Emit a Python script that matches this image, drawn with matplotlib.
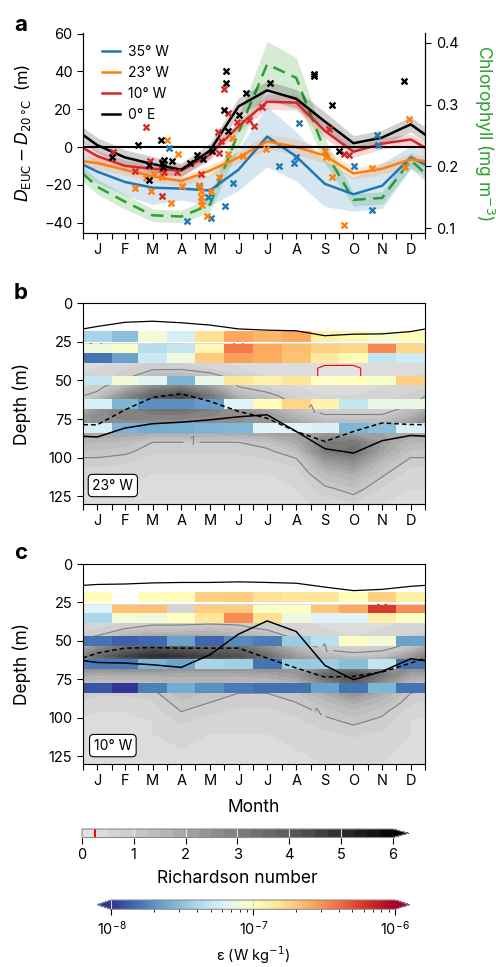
import numpy as np
import matplotlib.pyplot as plt
from matplotlib.colors import LogNorm, ListedColormap

plt.rcParams['font.family'] = ['Inter', 'DejaVu Sans']
plt.rcParams['mathtext.fontset'] = 'dejavusans'
plt.rcParams['axes.linewidth'] = 0.8

# ---- calendar ----
month_len = [31, 28, 31, 30, 31, 30, 31, 31, 30, 31, 30, 31]
month_lbl = ['J', 'F', 'M', 'A', 'M', 'J', 'J', 'A', 'S', 'O', 'N', 'D']

# ---- panel a: D_EUC - D_20C (m), monthly climatology ----
d_35w = [-13, -18.5, -21.5, -22, -23, -12, 5.5, -5, -19.5, -25, -20.5, -5.5]
d_23w = [-8.5, -12, -15.5, -18, -12.5, -5.5, 3, 0, -4.5, -14, -11.5, -6.5]
d_10w = [-4.8, -10, -11.5, -12.5, -4, 11, 24, 23.5, 8.5, -2.5, 1.8, 4]
d_0e = [1, -5.5, -9, -12, -2, 21.5, 30, 25.5, 13.5, 2, 5, 12]
err_35w = [6, 7, 9, 6, 8, 11, 16, 13, 12, 9, 12, 6]
err_23w = [3, 3, 3, 3, 3, 3, 4, 4, 4, 3, 3, 3]
err_10w = [3, 3, 3, 3, 3, 3, 4, 4, 4, 3, 3, 3]
err_0e = [4, 4, 4, 3.5, 4, 4.5, 5, 5, 5, 4, 4, 4]

chl = [0.167, 0.143, 0.121, 0.119, 0.138, 0.255, 0.365, 0.343, 0.225, 0.146, 0.149, 0.21]
chl_err = [0.012, 0.012, 0.01, 0.01, 0.012, 0.025, 0.037, 0.033, 0.02, 0.01, 0.01, 0.013]

# individual years (day of year, value)
pts_0e_day = [31, 58.6, 70.3, 71, 83, 85, 86, 87, 94.8, 114.3, 122, 128.6, 137.4, 150.6,
              152.7, 153, 155.2, 166.2, 174, 199.6, 246.8, 246.8, 265.3, 273.4, 342.3]
pts_0e_val = [-5.2, 1.0, -9.4, -17.3, 3.5, -8.7, -10.8, -6.8, -7.3, -8.7, -4.4, -6.5, -2.1, 19.7,
              33.7, 40.3, 8.7, 17.1, 28.4, 33.7, 38.9, 37.5, 22.2, -2.3, 35.1]
pts_10w_day = [32, 55.8, 67.1, 71.7, 85, 85, 85, 87, 100, 126.4, 144.5, 145.2, 147, 150.6,
               154.5, 164, 177.6, 182.5, 190.7, 262.8, 278.8, 284]
pts_10w_val = [-2.6, -12.9, 10.6, -7.3, -11.7, -25.7, -8, -13, -13.1, -14.3, 8, -3, 3.1, 30.7,
               18, 13.3, 14.5, 11.3, 21.1, 9.6, -3.5, -4.2]
pts_23w_day = [55.8, 67.1, 72.8, 76, 85, 89.5, 93.8, 102, 105.5, 124.3, 125.7, 125.7, 126.4,
               127.5, 132, 136.4, 145.6, 154.8, 159.4, 171, 195, 258.5, 259, 265.3, 278.4,
               308.6, 343.4, 348]
pts_23w_val = [-21.8, -16.2, -23.2, -14.3, -16, 3.7, -29.7, -3.8, -20.4, -19.9, -23.4, -26.5,
               -28.6, -30.5, -36.5, -23.2, -15.7, -3.5, 4.9, -4.9, -0.9, -2.3, -5.4, -16, -41.4,
               -11.3, -10.8, 14.8]
pts_35w_day = [92, 110.8, 123.9, 133.9, 136.7, 151.6, 160.5, 209.5, 225.1, 227.3, 230.5, 289.1,
               308.2, 314, 315]
pts_35w_val = [-0.5, -39.1, -21.1, -26.5, -37.5, -31.2, -19, -10.3, -8.2, -5.1, 12.7, -9.9,
               -33.2, 6.1, 0.9]

# ---- panels b, c: Richardson number (rows = depth, cols = month) ----
ri_depth = [26, 35, 42, 48, 54, 60, 66, 72, 78, 84, 90, 96, 102, 110, 120, 130]
ri_23w = [
    [0.2, 0.5, 0.5, 0.5, 0.5, 0.2, 0.5, 0.5, 0.5, 0.5, 0.5, 0.4],
    [0.4, 0.5, 0.6, 0.6, 0.5, 0.4, 0.4, 0.4, 0.4, 0.4, 0.4, 0.4],
    [0.5, 0.7, 0.9, 0.9, 0.7, 0.5, 0.4, 0.4, 0.2, 0.2, 0.4, 0.4],
    [0.6, 0.9, 1.5, 1.6, 1.3, 0.8, 0.5, 0.4, 0.2, 0.2, 0.4, 0.5],
    [0.8, 1.6, 2.6, 3.0, 2.2, 1.0, 0.7, 0.5, 0.4, 0.4, 0.5, 0.6],
    [1.2, 2.6, 3.8, 4.5, 3.2, 1.6, 1.2, 0.7, 0.5, 0.5, 0.6, 0.8],
    [2.0, 3.0, 3.5, 3.8, 3.2, 2.2, 1.6, 1.0, 0.7, 0.7, 0.8, 1.0],
    [2.6, 3.0, 3.0, 3.0, 2.8, 2.6, 2.2, 1.5, 1.0, 1.0, 1.0, 1.6],
    [2.6, 2.6, 2.5, 2.5, 2.5, 2.5, 2.4, 2.0, 1.5, 1.4, 1.5, 2.2],
    [2.0, 2.0, 1.8, 1.8, 1.8, 1.9, 2.0, 2.2, 2.2, 2.0, 2.0, 2.0],
    [1.5, 1.4, 1.0, 1.0, 1.0, 1.0, 1.2, 1.8, 3.0, 3.2, 2.2, 1.5],
    [1.2, 1.1, 0.8, 0.8, 0.8, 0.8, 0.9, 1.3, 3.0, 3.4, 2.0, 1.2],
    [0.9, 0.8, 0.6, 0.6, 0.6, 0.6, 0.7, 0.9, 2.2, 2.6, 1.5, 0.9],
    [0.6, 0.6, 0.5, 0.5, 0.5, 0.5, 0.5, 0.6, 1.5, 1.8, 1.1, 0.6],
    [0.5, 0.5, 0.4, 0.4, 0.4, 0.4, 0.4, 0.5, 0.9, 1.2, 0.7, 0.5],
    [0.4, 0.4, 0.4, 0.4, 0.4, 0.4, 0.4, 0.4, 0.6, 0.7, 0.5, 0.4],
]
ri_10w = [
    [0.5, 0.5, 0.5, 0.5, 0.5, 0.5, 0.5, 0.5, 0.5, 0.5, 0.2, 0.5],
    [0.5, 0.6, 0.6, 0.6, 0.6, 0.6, 0.6, 0.5, 0.5, 0.5, 0.5, 0.5],
    [0.7, 1.0, 1.2, 1.2, 1.3, 1.2, 0.9, 0.6, 0.5, 0.5, 0.5, 0.6],
    [1.1, 1.8, 2.0, 2.0, 2.0, 1.8, 1.6, 0.9, 0.6, 0.5, 0.6, 0.8],
    [2.5, 3.5, 4.0, 3.8, 3.5, 3.5, 2.5, 1.5, 0.8, 0.7, 0.8, 1.2],
    [3.5, 4.5, 5.0, 4.8, 4.5, 4.2, 3.5, 2.2, 1.5, 1.2, 1.3, 2.2],
    [2.8, 3.0, 3.0, 2.8, 2.8, 2.8, 2.8, 2.5, 2.5, 2.5, 2.5, 2.8],
    [1.8, 1.8, 1.8, 1.8, 1.8, 1.8, 1.9, 2.2, 3.5, 4.2, 3.2, 2.0],
    [1.2, 1.2, 1.3, 1.6, 1.5, 1.4, 1.4, 1.6, 2.8, 3.8, 2.5, 1.4],
    [0.8, 0.8, 0.9, 1.4, 1.2, 1.0, 1.0, 1.2, 1.8, 2.5, 1.8, 1.0],
    [0.6, 0.6, 0.7, 1.2, 1.0, 0.8, 0.8, 1.0, 1.4, 1.8, 1.4, 0.8],
    [0.5, 0.5, 0.6, 1.0, 0.8, 0.7, 0.7, 0.8, 1.1, 1.4, 1.1, 0.6],
    [0.5, 0.5, 0.5, 0.8, 0.6, 0.6, 0.6, 0.7, 0.9, 1.1, 0.9, 0.5],
    [0.4, 0.4, 0.5, 0.6, 0.5, 0.5, 0.5, 0.6, 0.7, 0.8, 0.7, 0.5],
    [0.4, 0.4, 0.4, 0.5, 0.5, 0.5, 0.5, 0.5, 0.6, 0.6, 0.6, 0.4],
    [0.4, 0.4, 0.4, 0.4, 0.4, 0.4, 0.4, 0.4, 0.5, 0.5, 0.5, 0.4],
]
# where the Ri = 1 contour is labelled (day, depth)
ri_label_23w = [(116, 93), (244, 70)]
ri_label_10w = [(258, 56), (256, 94)]

# ---- dissipation, log10(eps) per depth bin and month ----
eps_top = [18, 26.5, 32, 47, 62, 77.5]
eps_bot = [25, 32, 38.5, 53, 68.5, 84]
eps_23w = [
    [-7.42, -7.52, -7.08, -7.24, -6.82, -6.58, -6.63, -6.58, -6.90, -6.96, -7.06, -6.98],
    [-7.10, -7.04, -7.36, -7.30, -6.96, -6.44, -6.58, -6.66, -6.74, -6.76, -6.48, -6.76],
    [-7.80, -7.64, -7.28, -7.12, -6.72, -6.56, -6.60, -6.68, -6.86, -6.98, -7.32, -7.26],
    [-7.31, -7.08, -7.18, -7.56, -7.14, -6.84, -6.92, -6.85, -7.02, -7.00, -7.04, -6.74],
    [-7.24, -7.56, -7.70, -7.70, -7.66, -7.20, -6.98, -6.76, -6.92, -7.31, -7.14, -7.14],
    [-7.24, -7.57, -7.60, -7.59, -7.57, -7.55, -7.20, -7.19, -7.22, -7.56, -7.52, -7.22],
]
eps_10w = [
    [-6.98, np.nan, -6.99, -6.98, -6.74, -6.73, -6.82, -6.85, -6.85, -6.99, -6.74, -6.90],
    [-7.20, -6.68, -6.67, np.nan, -6.72, -6.72, -7.02, -7.01, -6.70, -6.58, -6.22, -6.50],
    [-7.40, -7.08, -7.10, -7.00, -6.84, -6.50, -6.82, -7.12, -7.20, -7.20, -6.90, -7.02],
    [-7.80, -7.86, -7.84, -7.64, -7.85, -7.72, -7.77, -7.46, -7.34, -7.02, -7.08, -7.64],
    [-7.78, -7.78, -7.57, -7.63, -7.41, -7.44, -7.80, -7.47, -7.46, -7.52, -7.31, -7.80],
    [-7.90, -8.00, -7.76, -7.60, -7.70, -7.78, -7.81, -7.81, -7.64, -7.80, -7.56, -7.80],
]

# ---- depth lines (m) ----
mld_23w = [15.0, 12.3, 11.6, 12.6, 14.1, 16.6, 17.4, 17.8, 21.0, 20.0, 19.8, 18.3]
core_23w = [86.6, 80.8, 78, 77, 75.5, 73.5, 72.2, 83, 94.2, 97, 89, 85.6]
iso_23w = [78.7, 69, 61, 58.6, 63.5, 70, 74.5, 83, 89.5, 83, 77.5, 78.5]
mld_10w = [13.3, 13.0, 12.3, 12.0, 12.0, 11.6, 12.0, 12.5, 15.0, 17.3, 16.5, 14.5]
core_10w = [64, 64.4, 65.5, 67.2, 59, 45.6, 37, 43.9, 65.9, 75.2, 69.8, 61.6]
iso_10w = [57.9, 54.7, 54.3, 54.7, 54.7, 54.7, 61.2, 67.6, 73.5, 73.1, 70.2, 64.4]

# ---------------------------------------------------------------
edges = np.concatenate([[0], np.cumsum(month_len)])
mid = (edges[:-1] + edges[1:]) / 2
x_wrap = np.r_[mid[-1] - 365, mid, mid[0] + 365]


def wrap(v):
    v = np.asarray(v, dtype=float)
    return np.r_[v[..., -1:], v, v[..., :1]] if v.ndim == 1 else np.c_[v[:, -1], v, v[:, 0]]


W, H = 496, 967
TICK = 10.5
LAB = 12.5


def px_axes(left, top, right, bottom):
    return [left / W, 1 - bottom / H, (right - left) / W, (bottom - top) / H]


def month_axis(ax):
    ax.set_xlim(0, 365)
    ax.set_xticks(mid)
    ax.set_xticklabels(month_lbl)
    ax.set_xticks(edges, minor=True)
    ax.tick_params(axis='x', which='both', direction='out', length=4, width=0.8,
                   labelsize=TICK, pad=3)
    ax.tick_params(axis='y', direction='out', length=4, width=0.8, labelsize=TICK)


fig = plt.figure(figsize=(W / 100, H / 100), dpi=100)

# ---------------- panel a ----------------
ax = fig.add_axes(px_axes(82.7, 32.7, 425.3, 233))
ax2 = ax.twinx()
ax.set_zorder(ax2.get_zorder() + 1)
ax.patch.set_visible(False)

green = '#2ca02c'
ch = wrap(chl)
ce = wrap(chl_err)
ax2.fill_between(x_wrap, ch - ce, ch + ce, color=green, alpha=0.2, lw=0)

series = [('35° W', d_35w, err_35w, pts_35w_day, pts_35w_val, '#1f77b4'),
          ('23° W', d_23w, err_23w, pts_23w_day, pts_23w_val, '#ff7f0e'),
          ('10° W', d_10w, err_10w, pts_10w_day, pts_10w_val, '#d62728'),
          ('0° E', d_0e, err_0e, pts_0e_day, pts_0e_val, 'black')]
for name, vals, err, pd_, pv, col in series:
    v = wrap(vals)
    e = wrap(err)
    ax.fill_between(x_wrap, v - e, v + e, color=col, alpha=0.18, lw=0)
for name, vals, err, pd_, pv, col in series:
    ax.plot(x_wrap, wrap(vals), color=col, lw=1.8, label=name)
for name, vals, err, pd_, pv, col in series:
    ax.scatter(pd_, pv, marker='x', s=18, linewidths=1.7, color=col, zorder=4)
ax.axhline(0, color='black', lw=1.5, zorder=3)
# chlorophyll line drawn on top of the D_EUC lines
ax_top = fig.add_axes(ax.get_position(), sharex=ax)
ax_top.set_ylim(0.0924, 0.416)
ax_top.plot(x_wrap, ch, color=green, lw=1.8, ls=(0, (5, 3)))
ax_top.axis('off')

ax.set_ylim(-45.5, 60.5)
ax.set_yticks([-40, -20, 0, 20, 40, 60])
ax2.set_ylim(0.0924, 0.416)
ax2.set_yticks([0.1, 0.2, 0.3, 0.4])
month_axis(ax)
ax2.tick_params(axis='y', direction='out', length=4, width=0.8, labelsize=TICK)
for a in (ax, ax2):
    a.spines['top'].set_visible(False)
ax.set_ylabel(r'$D_{\mathrm{EUC}} - D_{20\,\mathrm{°C}}$  (m)', fontsize=12)
ax.yaxis.set_label_coords(-0.145, 0.5)
ax2.set_ylabel(r'Chlorophyll (mg m$^{-3}$)', fontsize=LAB, color=green,
               rotation=270, va='bottom')
ax2.yaxis.set_label_coords(1.135, 0.5)
ax.legend(loc='upper left', frameon=False, fontsize=10, handlelength=1.3,
          handletextpad=0.6, labelspacing=0.5, bbox_to_anchor=(0.02, 1.0))

# ---------------- panels b, c ----------------
greys = plt.get_cmap('Greys')
cmap_ri = ListedColormap(greys(np.linspace(0.2, 0.97, 24)))
cmap_ri.set_over(greys(1.0))
ri_levels = np.arange(0, 6.01, 0.25)
cmap_eps = plt.get_cmap('RdYlBu_r')
norm_eps = LogNorm(1e-8, 1e-6)

panels = [(px_axes(82.7, 303.3, 425.3, 504), ri_23w, ri_label_23w, eps_23w,
           mld_23w, core_23w, iso_23w, '23° W'),
          (px_axes(82.7, 564, 425.3, 764), ri_10w, ri_label_10w, eps_10w,
           mld_10w, core_10w, iso_10w, '10° W')]
for pos, ri, ri_lab, eps, mld, core, iso, tag in panels:
    axp = fig.add_axes(pos)
    riw = wrap(np.array(ri))
    cf = axp.contourf(x_wrap, ri_depth, riw, levels=ri_levels, cmap=cmap_ri,
                      extend='max', zorder=0)
    c1 = axp.contour(x_wrap, ri_depth, riw, levels=[1], colors='0.5',
                     linewidths=0.8, zorder=1)
    axp.clabel(c1, fmt='%d', fontsize=9, inline=True, manual=ri_lab)
    axp.contour(x_wrap, ri_depth, riw, levels=[0.25], colors='red',
                linewidths=0.8, zorder=1)
    for k in range(len(eps_top)):
        row = np.ma.masked_invalid(10 ** np.array(eps[k], dtype=float))
        axp.pcolormesh(edges, [eps_top[k], eps_bot[k]], row[np.newaxis, :],
                       cmap=cmap_eps, norm=norm_eps, zorder=2)
    axp.plot(x_wrap, wrap(mld), color='black', lw=0.9, zorder=3)
    axp.plot(x_wrap, wrap(core), color='black', lw=1.1, zorder=3)
    axp.plot(x_wrap, wrap(iso), color='black', lw=1.1, ls=(0, (3, 2)), zorder=3)
    axp.set_ylim(130, 0)
    axp.set_yticks([0, 25, 50, 75, 100, 125])
    month_axis(axp)
    axp.set_ylabel('Depth (m)', fontsize=LAB)
    axp.yaxis.set_label_coords(-0.15, 0.5)
    axp.text(0.088, 0.092, tag, transform=axp.transAxes, ha='center', va='center',
             fontsize=10, zorder=5,
             bbox=dict(boxstyle='round,pad=0.3', fc='white', ec='black', lw=0.8))
    ri_cf = cf
axp.set_xlabel('Month', fontsize=LAB, labelpad=8)

# ---------------- colorbars ----------------
cax1 = fig.add_axes(px_axes(82, 829, 408.3, 837.5))
cb1 = fig.colorbar(ri_cf, cax=cax1, orientation='horizontal', ticks=range(7))
cb1.outline.set_edgecolor('0.55')
cb1.ax.tick_params(length=4, width=0.8, labelsize=TICK, color='black')
for t in range(1, 7):
    cax1.axvline(t, color='white', lw=0.8, alpha=0.8)
cax1.axvline(0.25, color='red', lw=1.5)
cb1.set_label('Richardson number', fontsize=LAB, labelpad=6)

cax2 = fig.add_axes(px_axes(97.3, 900, 409.3, 909.3))
sm = plt.cm.ScalarMappable(norm=norm_eps, cmap=cmap_eps)
cb2 = fig.colorbar(sm, cax=cax2, orientation='horizontal', extend='both')
cb2.outline.set_edgecolor('0.55')
cb2.ax.tick_params(which='major', length=4, width=0.8, labelsize=TICK)
cb2.ax.tick_params(which='minor', length=2.5, width=0.6)
for t in (1e-8, 1e-7, 1e-6):
    cax2.axvline(t, color='0.85', lw=0.8)
cb2.set_label('ε (W kg$^{-1}$)', fontsize=10.5, labelpad=5)

for lbl, y in (('a', 25), ('b', 293), ('c', 553)):
    fig.text(14 / W, 1 - y / H, lbl, fontsize=16, fontweight='bold', va='center', ha='left')

fig.savefig('out.png', dpi=100)
